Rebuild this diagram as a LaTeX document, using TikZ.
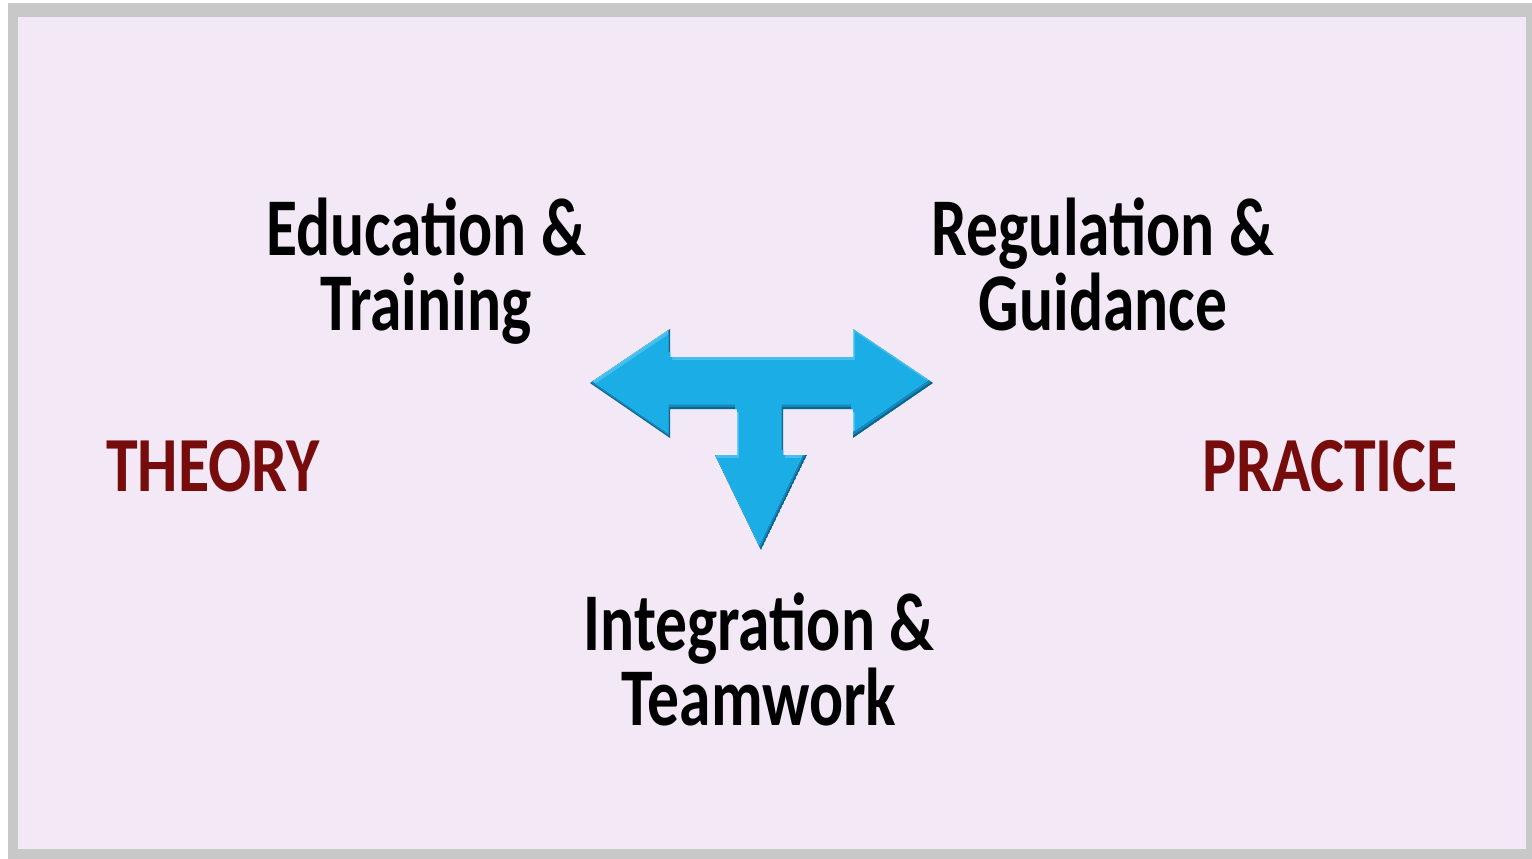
\documentclass[tikz,border=0pt]{standalone}
\usepackage{fontspec}
\setmainfont{Carlito}
\newfontfamily\topicfont{Carlito}[FakeStretch=0.775]
\newfontfamily\polefont{Carlito}[FakeStretch=0.82]
\definecolor{frame}{RGB}{200,200,200}
\definecolor{panel}{RGB}{243,232,246}
\definecolor{heading}{RGB}{118,12,12}
\definecolor{arrowbase}{RGB}{27,174,230}
\definecolor{arrowlight}{RGB}{110,205,243}
\definecolor{arrowmidlight}{RGB}{70,190,238}
\definecolor{arrowdark}{RGB}{8,100,145}
\definecolor{arrowmiddark}{RGB}{18,138,190}
% outline of the three-way arrow
\newcommand\tarrowshape{(590,383) -- (670,329) -- (670,357) -- (853,357) -- (853,329) -- (933,383) -- (853,438) -- (853,409) -- (783,409) -- (783,455) -- (807,455) -- (761,550) -- (715,455) -- (737,455) -- (737,409) -- (670,409) -- (670,438) -- cycle}
\tikzset{
  topic/.style={inner sep=0pt, align=center, text=black, font=\topicfont\fontsize{82}{75}\selectfont\bfseries},
  pole/.style={inner sep=0pt, text=heading, font=\polefont\fontsize{78}{80}\selectfont\bfseries},
}
\begin{document}
\begin{tikzpicture}[x=1pt,y=-1pt]
  \useasboundingbox (0,0) rectangle (1532,859);
  \fill[white] (0,0) rectangle (1532,859);
  \fill[frame] (8,3) rectangle (1532,859);
  \fill[panel] (18,17) rectangle (1526,849);

  % bevelled arrow: light upper-left edges, dark lower-right edges
  \begin{scope}
    \clip \tarrowshape;
    \fill[arrowdark] \tarrowshape;
    \fill[arrowmiddark, shift={(-1,-2)}] \tarrowshape;
    \fill[arrowlight, shift={(-2,-5)}] \tarrowshape;
    \begin{scope}[shift={(-2,-5)}]
      \clip \tarrowshape;
      \fill[arrowmidlight, shift={(3,5)}] \tarrowshape;
      \fill[arrowbase, shift={(4,8)}] \tarrowshape;
    \end{scope}
  \end{scope}

  \node[topic, anchor=base] (edu) at (426,330) {Education \&\\Training};
  \node[topic, anchor=base] (reg) at (1103,330) {Regulation \&\\Guidance};
  \node[topic, anchor=base] (int) at (759,725) {Integration \&\\Teamwork};
  \node[pole, anchor=base] (theory) at (213,491) {THEORY};
  \node[pole, anchor=base] (practice) at (1330,491) {PRACTICE};
\end{tikzpicture}
\end{document}
